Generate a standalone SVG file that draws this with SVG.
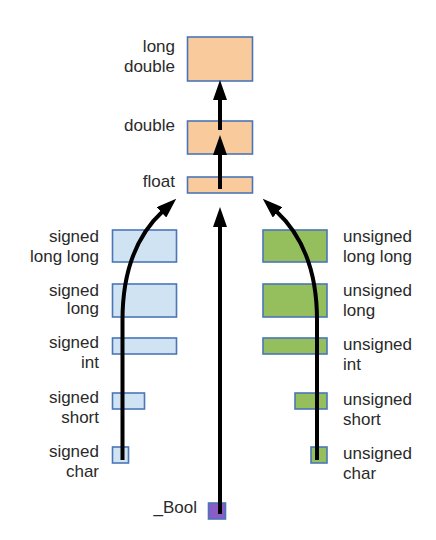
<svg xmlns="http://www.w3.org/2000/svg" width="436" height="540" viewBox="0 0 436 540">
<style>
text{font-family:"Liberation Sans",Arial,sans-serif;font-size:17px;fill:#2a2a2a}
.r{text-anchor:end}
.box{stroke:#4a76b8;stroke-width:1.6}
.fp{fill:#f9cb9c}
.sg{fill:#cfe3f3}
.ug{fill:#95bf5c}
.bo{fill:#8a5cc7}
.ar{fill:none;stroke:#000;stroke-width:4}
</style>
<defs>
<marker id="ah" viewBox="0 0 20 14" refX="2" refY="7" markerUnits="userSpaceOnUse" markerWidth="20" markerHeight="14" orient="auto">
<path d="M0,0 L20,7 L0,14 z" fill="#000"/>
</marker>
</defs>
<rect width="436" height="540" fill="#fff"/>
<g id="long_double"><rect class="box fp" x="187.5" y="37" width="65" height="44"/><text class="r" x="175" y="52">long</text><text class="r" x="175" y="72">double</text></g>
<g id="double"><rect class="box fp" x="187.5" y="121" width="65" height="33"/><text class="r" x="175" y="131">double</text></g>
<g id="float"><rect class="box fp" x="187.5" y="177" width="65" height="16"/><text class="r" x="175" y="187">float</text></g>
<g id="signed_long_long"><rect class="box sg" x="112.5" y="230" width="64" height="32"/><text class="r" x="99" y="242">signed</text><text class="r" x="99" y="262">long long</text></g>
<g id="signed_long"><rect class="box sg" x="112.5" y="284" width="64" height="33"/><text class="r" x="99" y="296">signed</text><text class="r" x="99" y="314">long</text></g>
<g id="signed_int"><rect class="box sg" x="112.5" y="338" width="64" height="16"/><text class="r" x="99" y="348">signed</text><text class="r" x="99" y="368">int</text></g>
<g id="signed_short"><rect class="box sg" x="112.5" y="393" width="32" height="16"/><text class="r" x="99" y="403">signed</text><text class="r" x="99" y="423">short</text></g>
<g id="signed_char"><rect class="box sg" x="112.5" y="447" width="16" height="16"/><text class="r" x="99" y="457">signed</text><text class="r" x="99" y="477">char</text></g>
<g id="unsigned_long_long"><rect class="box ug" x="263" y="230" width="64" height="32"/><text x="343" y="242">unsigned</text><text x="343" y="262">long long</text></g>
<g id="unsigned_long"><rect class="box ug" x="263" y="284" width="64" height="33"/><text x="343" y="296">unsigned</text><text x="343" y="316">long</text></g>
<g id="unsigned_int"><rect class="box ug" x="263" y="338" width="64" height="16"/><text x="343" y="350">unsigned</text><text x="343" y="370">int</text></g>
<g id="unsigned_short"><rect class="box ug" x="295" y="393" width="32" height="16"/><text x="343" y="405">unsigned</text><text x="343" y="425">short</text></g>
<g id="unsigned_char"><rect class="box ug" x="311" y="447" width="16" height="16"/><text x="343" y="459">unsigned</text><text x="343" y="479">char</text></g>
<g id="bool"><rect class="box bo" x="208.5" y="503" width="17" height="16"/><text class="r" x="197" y="513">_Bool</text></g>
<g id="connectors">
<path class="ar" d="M220,189 V153" marker-end="url(#ah)"/>
<path class="ar" d="M220,130 V98" marker-end="url(#ah)"/>
<path class="ar" d="M220,514 V225" marker-end="url(#ah)"/>
<path class="ar" d="M122.5,460 V320 C122.5,272 137,235 163,211" marker-end="url(#ah)"/>
<path class="ar" d="M317,460 V320 C317,272 302,235 276,211" marker-end="url(#ah)"/>
</g>
</svg>
